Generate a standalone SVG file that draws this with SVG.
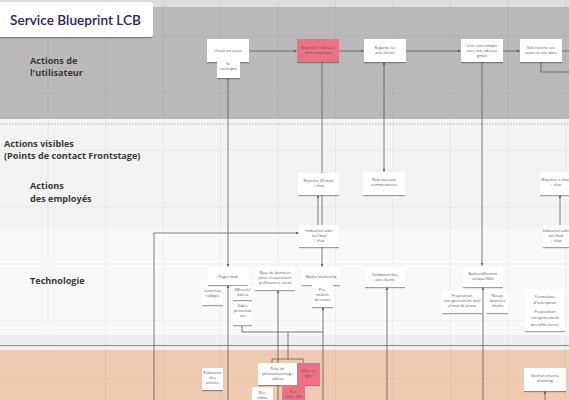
<svg xmlns="http://www.w3.org/2000/svg" width="569" height="400" viewBox="0 0 569 400">
<defs>
<style>
.lbl{font-family:"Open Sans","DejaVu Sans",sans-serif;font-weight:700;font-size:9.1px;fill:#3a3a3a}
.t{font-family:"Open Sans","DejaVu Sans",sans-serif;font-size:3.9px;fill:#555;text-anchor:middle}
.box{fill:#fff;filter:url(#sh)}
.pink{fill:#ef6f86;filter:url(#sh)}
.c{fill:none;stroke:#5a5a5a;stroke-width:0.8}
.g{stroke:#000;stroke-opacity:0.045;stroke-width:1}
</style>
<filter id="sh" x="-20%" y="-20%" width="140%" height="160%">
<feDropShadow dx="0" dy="1.2" stdDeviation="0.7" flood-color="#000" flood-opacity="0.35"/>
</filter>
<marker id="a" viewBox="0 0 6 6" refX="5.5" refY="3" markerWidth="4" markerHeight="4" orient="auto-start-reverse">
<path d="M0,0.5 L6,3 L0,5.5 Z" fill="#5a5a5a"/>
</marker>
</defs>

<!-- bands -->
<rect x="0" y="0" width="569" height="400" fill="#f8f8f8"/>
<rect x="0" y="0" width="569" height="7" fill="#dcdcdc"/>
<rect x="0" y="7" width="569" height="112" fill="#b9b9b9"/>
<rect x="0" y="119" width="569" height="110" fill="#f3f3f3"/>
<rect x="0" y="229" width="569" height="106" fill="#f9f9f9"/>
<rect x="0" y="335" width="569" height="15" fill="#efefef"/>
<rect x="0" y="350" width="569" height="50" fill="#efcab3"/>
<line x1="0" y1="345.5" x2="569" y2="345.5" stroke="#8a8a8a" stroke-width="1"/>
<line x1="0" y1="124" x2="569" y2="124" stroke="#9a9a9a" stroke-width="0.8" stroke-dasharray="1.5,1.5"/>

<!-- grid -->
<g id="grid">
<line class="g" x1="48" y1="0" x2="48" y2="400"/>
<line class="g" x1="105.5" y1="0" x2="105.5" y2="400"/>
<line class="g" x1="163" y1="0" x2="163" y2="400"/>
<line class="g" x1="220.5" y1="0" x2="220.5" y2="400"/>
<line class="g" x1="278" y1="0" x2="278" y2="400"/>
<line class="g" x1="335.5" y1="0" x2="335.5" y2="400"/>
<line class="g" x1="393" y1="0" x2="393" y2="400"/>
<line class="g" x1="450.5" y1="0" x2="450.5" y2="400"/>
<line class="g" x1="508" y1="0" x2="508" y2="400"/>
<line class="g" x1="565.5" y1="0" x2="565.5" y2="400"/>
<line class="g" x1="0" y1="36" x2="569" y2="36"/>
<line class="g" x1="0" y1="93" x2="569" y2="93"/>
<line class="g" x1="0" y1="150" x2="569" y2="150"/>
<line class="g" x1="0" y1="207" x2="569" y2="207"/>
<line class="g" x1="0" y1="264" x2="569" y2="264"/>
<line class="g" x1="0" y1="321" x2="569" y2="321"/>
<line class="g" x1="0" y1="378" x2="569" y2="378"/>
</g>

<!-- title -->
<g id="title">
<rect x="-4" y="2" width="157" height="35" rx="3" fill="#fff" filter="url(#sh)"/>
<text x="10" y="25" font-family="Lato,'Open Sans',sans-serif" font-size="14" font-weight="600" fill="#2b2650" textLength="131" lengthAdjust="spacingAndGlyphs">Service Blueprint LCB</text>
</g>

<!-- lane labels -->
<g id="lanes">
<text class="lbl" x="30" y="64">Actions de</text>
<text class="lbl" x="30" y="76">l'utilisateur</text>
<text class="lbl" x="4" y="147">Actions visibles</text>
<text class="lbl" x="4" y="159">(Points de contact Frontstage)</text>
<text class="lbl" x="30" y="189">Actions</text>
<text class="lbl" x="30" y="202">des employés</text>
<text class="lbl" x="30" y="284">Technologie</text>
</g>

<!-- connectors -->
<g id="connectors">
<line class="c" x1="249" y1="51" x2="296.5" y2="51" marker-end="url(#a)"/>
<line class="c" x1="339" y1="51" x2="363.5" y2="51" marker-end="url(#a)"/>
<line class="c" x1="406" y1="51" x2="460.5" y2="51" marker-end="url(#a)"/>
<line class="c" x1="503" y1="51" x2="519.5" y2="51" marker-end="url(#a)"/>
<line class="c" x1="562" y1="51" x2="569" y2="51"/>
<polyline class="c" points="541,62 541,72 569,72"/>
<line class="c" x1="228" y1="78" x2="228" y2="266.5" marker-end="url(#a)"/>
<line class="c" x1="322" y1="62" x2="322" y2="173"/>
<line class="c" x1="384" y1="171.5" x2="384" y2="62.5" marker-start="url(#a)" marker-end="url(#a)"/>
<line class="c" x1="482" y1="62" x2="482" y2="265.5" marker-end="url(#a)"/>
<line class="c" x1="318" y1="225" x2="318" y2="195.5" marker-end="url(#a)"/>
<line class="c" x1="322" y1="195" x2="322" y2="266.5" marker-end="url(#a)"/>
<line class="c" x1="560" y1="225" x2="560" y2="195.5" marker-end="url(#a)"/>
<polyline class="c" points="154,400 154,233 298.5,233" marker-end="url(#a)"/>
<line class="c" x1="228" y1="400" x2="228" y2="285.5" marker-end="url(#a)"/>
<line class="c" x1="278" y1="400" x2="278" y2="290.5" marker-end="url(#a)"/>
<line class="c" x1="323" y1="400" x2="323" y2="307.5" marker-end="url(#a)"/>
<polyline class="c" points="242,326 242,332 323,332"/>
<line class="c" x1="288" y1="332" x2="288" y2="359"/>
<polyline class="c" points="272,363 272,359 303,359 303,363"/>
<line class="c" x1="387" y1="400" x2="387" y2="287.5" marker-end="url(#a)"/>
<line class="c" x1="483" y1="400" x2="483" y2="287.5" marker-end="url(#a)"/>
<line class="c" x1="545" y1="400" x2="545" y2="391.5" marker-end="url(#a)"/>
</g>

<!-- user actions -->
<g id="n_choisi"><rect class="box" x="207" y="39" width="42" height="23"/><text class="t" x="228" y="52">Choisi un cours</text></g>
<g id="n_renseigne"><rect class="box" x="217" y="59" width="23" height="19"/><text class="t" x="228.5" y="65">Se</text><text class="t" x="228.5" y="70">renseigne</text></g>
<g id="n_video"><rect class="pink" x="297" y="39" width="42" height="23"/><text class="t" x="318" y="49" fill="#6a2030">Regarde 1 vidéo de</text><text class="t" x="318" y="54" fill="#6a2030">démonstration</text></g>
<g id="n_avis"><rect class="box" x="364" y="39" width="42" height="23"/><text class="t" x="385" y="49">Regarde les</text><text class="t" x="385" y="54">avis clients</text></g>
<g id="n_compte"><rect class="box" x="461" y="39" width="42" height="23"/><text class="t" x="482" y="46.5">Crée son compte</text><text class="t" x="482" y="51.5">avec son adresse</text><text class="t" x="482" y="56.5">gmail</text></g>
<g id="n_selection"><rect class="box" x="520" y="39" width="42" height="23"/><text class="t" x="541" y="49">Sélectionne ses</text><text class="t" x="541" y="54">cours et une date</text></g>

<!-- employee actions -->
<g id="n_rep_mail"><rect class="box" x="298" y="173" width="41" height="22"/><text class="t" x="318.5" y="182">Réponse (E)-mail</text><text class="t" x="318.5" y="187">+ chat</text></g>
<g id="n_rep_comm"><rect class="box" x="363" y="172" width="42" height="23"/><text class="t" x="384" y="181">Réponse aux</text><text class="t" x="384" y="186">commentaires</text></g>
<g id="n_rep_mail2"><rect class="box" x="540" y="172" width="44" height="23"/><text class="t" x="555.5" y="181">Réponse e-mail</text><text class="t" x="555.5" y="186">+ chat</text></g>

<!-- technology -->
<g id="n_ind"><rect class="box" x="299" y="225" width="40" height="22"/><text class="t" x="319" y="231.5">Indication aide</text><text class="t" x="319" y="236.5">tel./mail</text><text class="t" x="319" y="241.5">+ chat</text></g>
<g id="n_ind2"><rect class="box" x="543" y="225" width="40" height="22"/><text class="t" x="556" y="231.5">Indication aide</text><text class="t" x="556" y="236.5">tel./mail</text><text class="t" x="556" y="241.5">+ chat</text></g>
<g id="n_pages"><rect class="box" x="208" y="267" width="40" height="18"/><text class="t" x="228" y="278">Pages web</text></g>
<g id="n_contenus"><rect class="box" x="202" y="287" width="21" height="18"/><text class="t" x="212.5" y="292">Contenus</text><text class="t" x="212.5" y="297">rédigés</text></g>
<g id="n_efficacite"><rect class="box" x="233" y="286" width="19" height="14"/><text class="t" x="242.5" y="291">Efficacité</text><text class="t" x="242.5" y="296">vidéos</text></g>
<g id="n_videopres"><rect class="box" x="233" y="302" width="19" height="23"/><text class="t" x="242.5" y="307">Vidéo</text><text class="t" x="242.5" y="312">présentat</text><text class="t" x="242.5" y="317">ion</text></g>
<g id="n_bdd"><rect class="box" x="255" y="267" width="40" height="23"/><text class="t" x="275" y="273.5">Base de données</text><text class="t" x="275" y="278.5">pour récupération</text><text class="t" x="275" y="283.5">préférences client</text></g>
<g id="n_media"><rect class="box" x="302" y="267" width="38" height="18"/><text class="t" x="321" y="278">Média marketing</text></g>
<g id="n_promo"><rect class="box" x="312" y="285" width="21" height="22"/><text class="t" x="322.5" y="291">Pro-</text><text class="t" x="322.5" y="296">motion</text><text class="t" x="322.5" y="301">du cours</text></g>
<g id="n_validation"><rect class="box" x="365" y="268" width="40" height="19"/><text class="t" x="385" y="276">Validation des</text><text class="t" x="385" y="281">avis clients</text></g>
<g id="n_auth"><rect class="box" x="463" y="267" width="40" height="20"/><text class="t" x="483" y="274.5">Authentification</text><text class="t" x="483" y="280">unique/SSO</text></g>
<g id="n_propmail"><rect class="box" x="442" y="290" width="40" height="23"/><text class="t" x="462" y="296.5">Proposition</text><text class="t" x="462" y="301.5">enregistrement mail</text><text class="t" x="462" y="306.5">et mot de passe</text></g>
<g id="n_recup"><rect class="box" x="487" y="290" width="21" height="23"/><text class="t" x="497.5" y="296.5">Récup.</text><text class="t" x="497.5" y="301.5">données</text><text class="t" x="497.5" y="306.5">clients</text></g>
<g id="n_form"><rect class="box" x="525" y="289" width="40" height="42"/><text class="t" x="545" y="298">Formulaire</text><text class="t" x="545" y="303.5">d'inscription</text><text class="t" x="545" y="313">Proposition</text><text class="t" x="545" y="319">enregistrement</text><text class="t" x="545" y="325.5">des infos perso.</text></g>

<!-- backstage -->
<g id="n_reduction"><rect class="box" x="202" y="368" width="21" height="22"/><text class="t" x="212.5" y="374">Réduction</text><text class="t" x="212.5" y="379">des</text><text class="t" x="212.5" y="384">articles</text></g>
<g id="n_prise"><rect class="box" x="258" y="363" width="39" height="22"/><text class="t" x="277.5" y="369.5">Prise de</text><text class="t" x="277.5" y="374.5">photos/tournage</text><text class="t" x="277.5" y="379.5">vidéos</text></g>
<g id="n_mise"><rect class="pink" x="297" y="363" width="23" height="22"/><text class="t" x="308.5" y="372" fill="#6a2030">Mise en</text><text class="t" x="308.5" y="377" fill="#6a2030">ligne</text></g>
<g id="n_rec"><rect class="box" x="252" y="387" width="21" height="16"/><text class="t" x="262.5" y="394">Réc.</text><text class="t" x="262.5" y="399">vidéo</text></g>
<g id="n_rec2"><rect class="pink" x="282" y="385" width="23" height="18"/><text class="t" x="293.5" y="393" fill="#6a2030">Réc.</text><text class="t" x="293.5" y="398" fill="#6a2030">vidéo 360</text></g>
<g id="n_gestion"><rect class="box" x="524" y="368" width="42" height="23"/><text class="t" x="545" y="377">Gestion interne</text><text class="t" x="545" y="382">planning</text></g>
</svg>
